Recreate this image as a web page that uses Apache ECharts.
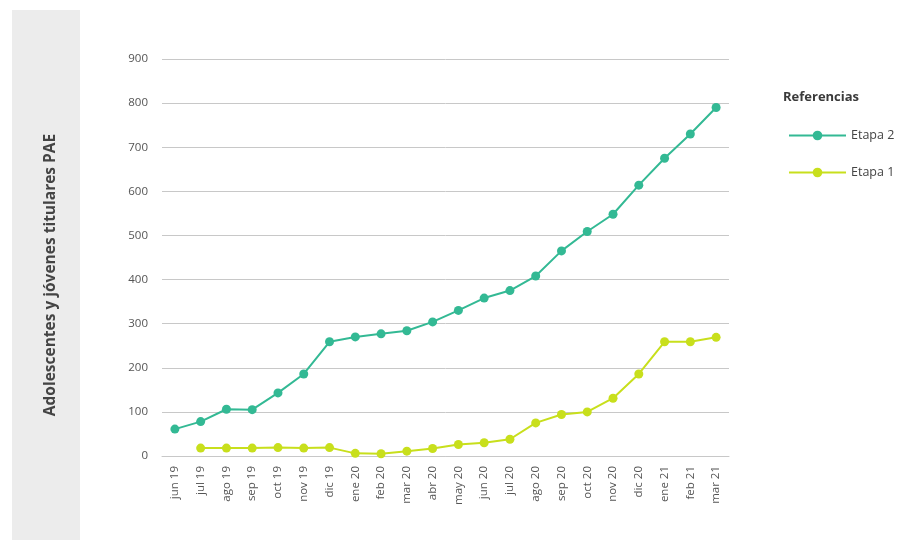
<!DOCTYPE html>
<html>
<head>
<meta charset="utf-8">
<script src="https://cdn.jsdelivr.net/npm/echarts@6/dist/echarts.min.js"></script>
<style>
html,body{margin:0;padding:0;background:#fff;}
#chart{width:900px;height:540px;}
</style>
</head>
<body>
<div id="chart"></div>
<script>
var categories = ['jun 19','jul 19','ago 19','sep 19','oct 19','nov 19','dic 19','ene 20','feb 20','mar 20','abr 20','may 20','jun 20','jul 20','ago 20','sep 20','oct 20','nov 20','dic 20','ene 21','feb 21','mar 21'];
var etapa2 = [61, 78, 106, 105, 143, 186, 259, 270, 277, 284, 304, 330, 358, 375, 408, 465, 509, 548, 614, 675, 730, 790];
var etapa1 = [null, 18, 18, 18, 19, 18, 19, 6, 5, 11, 17, 26, 30, 38, 75, 94, 100, 131, 186, 259, 259, 269];
var yTicks = [0, 100, 200, 300, 400, 500, 600, 700, 800, 900];
var axisTitle = 'Adolescentes y jóvenes titulares PAE';
var legendTitle = 'Referencias';

var teal = '#33b994';
var lime = '#c8df1c';
var font = '"Open Sans", "Noto Sans", sans-serif';

var chart = echarts.init(document.getElementById('chart'));
chart.setOption({
  animation: false,
  textStyle: { fontFamily: font },
  graphic: [
    { type: 'rect', left: 12, top: 10, shape: { width: 68, height: 530 }, style: { fill: '#ececec' }, z: -10 },
    { type: 'text', x: 51, y: 275, rotation: Math.PI / 2,
      style: { text: axisTitle, font: 'bold 15.5px ' + font, fill: '#444', align: 'center', verticalAlign: 'middle' } },
    { type: 'text', left: 783, top: 91, style: { text: legendTitle, font: 'bold 13px ' + font, fill: '#3a3a3a' } }
  ],
  grid: { left: 162, right: 171, top: 59, bottom: 84 },
  legend: {
    data: ['Etapa 2', 'Etapa 1'],
    orient: 'vertical',
    left: 783,
    top: 124,
    itemWidth: 57,
    itemHeight: 12,
    itemGap: 24,
    textStyle: { fontSize: 12.5, color: '#444', fontFamily: font }
  },
  xAxis: {
    type: 'category',
    data: categories,
    boundaryGap: true,
    axisLine: { lineStyle: { color: '#c8c8c8' } },
    axisTick: { show: false },
    axisLabel: { rotate: 90, fontSize: 11.5, color: '#555', margin: 10 }
  },
  yAxis: {
    type: 'value',
    min: 0, max: 900, interval: 100,
    axisLine: { show: false },
    axisTick: { show: false },
    axisLabel: { fontSize: 11.5, color: '#555', margin: 14,
      formatter: function (v) { return yTicks.indexOf(v) >= 0 ? String(v) : ''; } },
    splitLine: { lineStyle: { color: '#c8c8c8', width: 1 } }
  },
  series: [
    {
      name: 'Etapa 2', type: 'line', data: etapa2,
      symbol: 'circle', symbolSize: 9,
      lineStyle: { color: teal, width: 2 },
      itemStyle: { color: teal }
    },
    {
      name: 'Etapa 1', type: 'line', data: etapa1,
      symbol: 'circle', symbolSize: 9,
      lineStyle: { color: lime, width: 2 },
      itemStyle: { color: lime }
    }
  ]
});
</script>
</body>
</html>
